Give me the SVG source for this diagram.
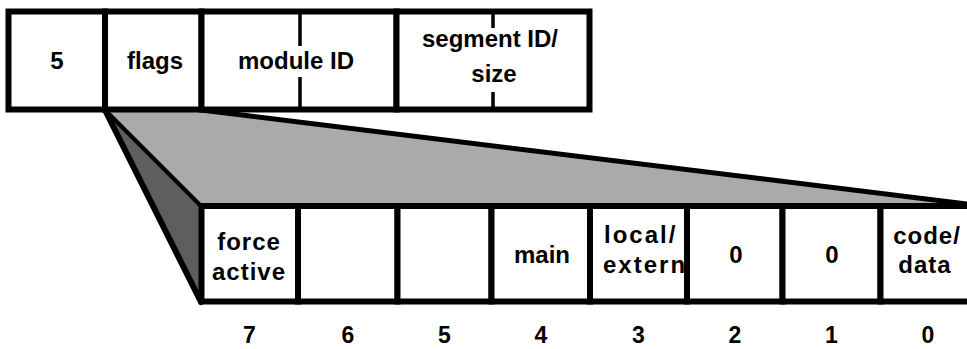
<svg xmlns="http://www.w3.org/2000/svg" width="967" height="349" viewBox="0 0 967 349">
  <style>
    .cell { fill: #ffffff; stroke: #000000; stroke-width: 6; }
    .tick { stroke: #000000; stroke-width: 3.5; }
    .lbl { font-family: "Liberation Sans", Arial, Helvetica, sans-serif; font-weight: bold; font-size: 24px; fill: #000000; text-anchor: middle; }
    .num { font-family: "Liberation Sans", Arial, Helvetica, sans-serif; font-weight: bold; font-size: 23px; fill: #000000; text-anchor: middle; }
    .sp { letter-spacing: 1px; }
    .line { stroke: #000000; fill: none; stroke-linecap: round; stroke-linejoin: round; }
  </style>

  <g id="connectors">
    <polygon points="105,110 201,110 967,204 967,206 201,206" fill="#aaaaaa"/>
    <polygon points="105,110 201,206 201,302" fill="#5e5e5e"/>
    <line class="line" x1="105" y1="110" x2="201" y2="302" stroke-width="6"/>
    <line class="line" x1="107" y1="112" x2="201" y2="206" stroke-width="4"/>
    <line class="line" x1="201" y1="110" x2="967" y2="204" stroke-width="5"/>
  </g>

  <g id="field-type">
    <rect class="cell" x="8.5" y="11.5" width="96.5" height="98"/>
    <text class="lbl" x="57" y="69">5</text>
  </g>
  <g id="field-flags">
    <rect class="cell" x="105" y="11.5" width="96.5" height="98"/>
    <text class="lbl" x="155" y="69">flags</text>
  </g>
  <g id="field-module">
    <rect class="cell" x="201.5" y="11.5" width="195" height="98"/>
    <line class="tick" x1="300" y1="12" x2="300" y2="46"/>
    <line class="tick" x1="300" y1="77" x2="300" y2="109"/>
    <text class="lbl" x="296" y="69">module ID</text>
  </g>
  <g id="field-segment">
    <rect class="cell" x="396.5" y="11.5" width="193" height="98"/>
    <line class="tick" x1="493" y1="12" x2="493" y2="28"/>
    <line class="tick" x1="493" y1="92" x2="493" y2="109"/>
    <text class="lbl" x="490" y="47">segment ID/</text>
    <text class="lbl" x="494" y="82">size</text>
  </g>

  <g id="bit7">
    <rect class="cell" x="201.5" y="206" width="96.5" height="95.5"/>
    <text class="lbl sp" x="249" y="250">force</text>
    <text class="lbl sp" x="249" y="280">active</text>
    <text class="num" x="249.5" y="343">7</text>
  </g>
  <g id="bit6">
    <rect class="cell" x="298" y="206" width="99.5" height="95.5"/>
    <text class="num" x="348" y="343">6</text>
  </g>
  <g id="bit5">
    <rect class="cell" x="397.5" y="206" width="94" height="95.5"/>
    <text class="num" x="444.5" y="343">5</text>
  </g>
  <g id="bit4">
    <rect class="cell" x="491.5" y="206" width="98.5" height="95.5"/>
    <text class="lbl" x="542" y="263">main</text>
    <text class="num" x="541" y="343">4</text>
  </g>
  <g id="bit3">
    <rect class="cell" x="590" y="206" width="97" height="95.5"/>
    <text class="lbl" x="604" y="243" style="text-anchor:start;letter-spacing:2px">local/</text>
    <text class="lbl" x="603" y="273" style="text-anchor:start;letter-spacing:2px">extern</text>
    <text class="num" x="638.5" y="343">3</text>
  </g>
  <g id="bit2">
    <rect class="cell" x="687" y="206" width="95.5" height="95.5"/>
    <text class="lbl" x="736" y="263">0</text>
    <text class="num" x="735" y="343">2</text>
  </g>
  <g id="bit1">
    <rect class="cell" x="782.5" y="206" width="98" height="95.5"/>
    <text class="lbl" x="832" y="263">0</text>
    <text class="num" x="831.5" y="343">1</text>
  </g>
  <g id="bit0">
    <rect class="cell" x="880.5" y="206" width="100" height="95.5"/>
    <text class="lbl sp" x="927" y="244">code/</text>
    <text class="lbl sp" x="925" y="273">data</text>
    <text class="num" x="928" y="343">0</text>
  </g>
</svg>
